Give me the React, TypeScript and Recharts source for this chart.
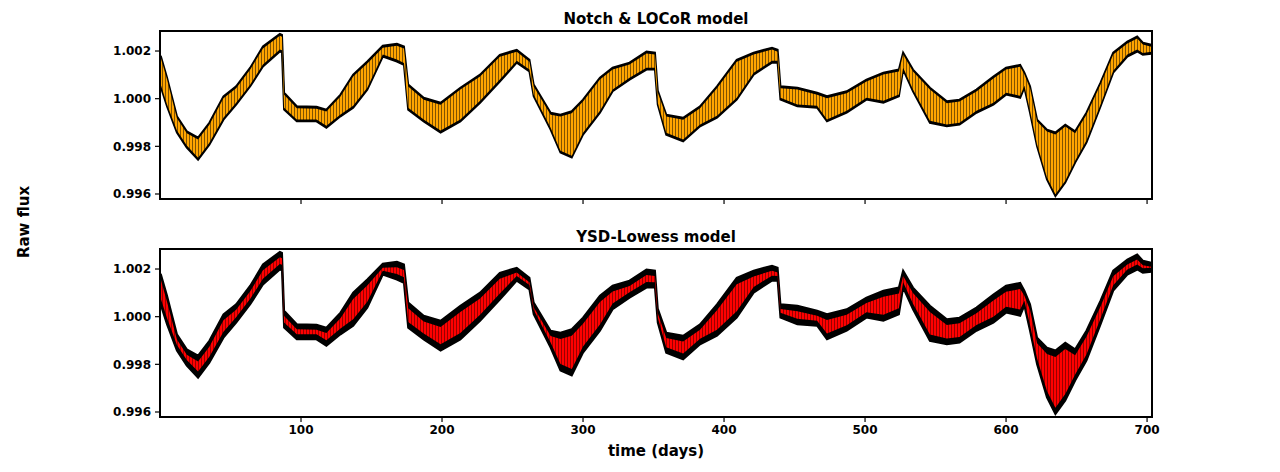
import React from "react";
import { ComposedChart, Area, XAxis, YAxis, ReferenceArea } from "recharts";

// sample times (days) along the light curve
const TIME = [
  0.5, 5, 12, 19, 27, 35, 45, 54, 64, 73, 85, 86.5, 88, 97, 111, 118, 128, 137, 147, 158,
  168, 173, 176, 187, 199, 213, 227, 241, 253, 262, 265, 277, 284, 292, 300, 312, 321, 333, 345, 351,
  353, 359, 371, 383, 395, 409, 421, 434, 438, 440, 452, 466, 473, 487, 501, 513, 524, 527, 534, 546,
  558, 567, 579, 591, 600, 610, 613, 617, 622, 629, 635, 642, 649, 657, 667, 676, 686, 693, 697, 703,
];

// raw flux envelope (upper / lower edge of the black points)
const FLUX_HI = [
  1.0018, 1.00088, 0.99926, 0.99863, 0.99837, 0.99899, 1.0001, 1.00052, 1.0013, 1.00219, 1.00272, 1.00268, 1.00025, 0.99968, 0.99966, 0.99954, 1.00017, 1.00101, 1.00156, 1.00222,
  1.0023, 1.00219, 1.00059, 1.00004, 0.99983, 1.00046, 1.00101, 1.00184, 1.00205, 1.00163, 1.00059, 0.99941, 0.99933, 0.99947, 0.99996, 1.00088, 1.0013, 1.00151, 1.00198, 1.00193,
  1.00034, 0.99933, 0.9992, 0.99968, 1.00052, 1.00163, 1.00193, 1.00214, 1.00205, 1.00052, 1.00046, 1.00025, 1.0001, 1.00031, 1.0008, 1.00109, 1.00122, 1.00193, 1.00122, 1.00046,
  0.99989, 0.99996, 1.00038, 1.00093, 1.0013, 1.00142, 1.00109, 1.00052, 0.99912, 0.9987, 0.99858, 0.99891, 0.99863, 0.99941, 1.00067, 1.00193, 1.0024, 1.00261, 1.00235, 1.00226,
];
const FLUX_LO = [
  1.0005, 0.99968, 0.99858, 0.99795, 0.99744, 0.99807, 0.99912, 0.99975, 1.00052, 1.00135, 1.00198, 1.00195, 0.99954, 0.99905, 0.99905, 0.99878, 0.99926, 0.99962, 1.00038, 1.00177,
  1.00156, 1.00142, 0.99954, 0.99905, 0.99858, 0.99905, 0.99983, 1.00072, 1.00151, 1.00114, 1.0001, 0.9987, 0.99774, 0.99753, 0.99849, 0.99941, 1.00031, 1.0008, 1.00122, 1.00122,
  0.99975, 0.99849, 0.99821, 0.99884, 0.9992, 0.99996, 1.00101, 1.00151, 1.00151, 0.99996, 0.99968, 0.99962, 0.99905, 0.99941, 0.99996, 0.99983, 1.0001, 1.00122, 1.00031, 0.99899,
  0.99884, 0.99891, 0.99941, 0.99975, 1.00017, 1.00004, 1.00046, 0.99941, 0.998, 0.99661, 0.99591, 0.99648, 0.99732, 0.99816, 0.99968, 1.00109, 1.00177, 1.00198, 1.00184, 1.00189,
];

// Notch & LOCoR model envelope
const NOTCH_HI = [
  1.00172, 1.0008, 0.99918, 0.99855, 0.99829, 0.99891, 1.00002, 1.00044, 1.00122, 1.00211, 1.00264, 1.0026, 1.00017, 0.9996, 0.99958, 0.99946, 1.00009, 1.00093, 1.00148, 1.00214,
  1.00222, 1.00211, 1.00051, 0.99996, 0.99975, 1.00038, 1.00093, 1.00176, 1.00197, 1.00155, 1.00051, 0.99933, 0.99925, 0.99939, 0.99988, 1.0008, 1.00122, 1.00143, 1.0019, 1.00185,
  1.00026, 0.99925, 0.99912, 0.9996, 1.00044, 1.00155, 1.00185, 1.00206, 1.00197, 1.00044, 1.00038, 1.00017, 1.00002, 1.00023, 1.00072, 1.00101, 1.00114, 1.00185, 1.00114, 1.00038,
  0.99981, 0.99988, 1.0003, 1.00085, 1.00122, 1.00134, 1.00101, 1.00044, 0.99904, 0.99862, 0.9985, 0.99883, 0.99855, 0.99933, 1.00059, 1.00185, 1.00232, 1.00253, 1.00227, 1.00218,
];
const NOTCH_LO = [
  1.0006, 0.99976, 0.99866, 0.99803, 0.99752, 0.99815, 0.9992, 0.99983, 1.0006, 1.00143, 1.00206, 1.00203, 0.99962, 0.99913, 0.99913, 0.99886, 0.99934, 0.9997, 1.00046, 1.00185,
  1.00164, 1.0015, 0.99962, 0.99913, 0.99866, 0.99913, 0.99991, 1.0008, 1.00159, 1.00122, 1.00018, 0.99878, 0.99782, 0.99761, 0.99857, 0.99949, 1.00039, 1.00088, 1.0013, 1.0013,
  0.99983, 0.99857, 0.99829, 0.99892, 0.99928, 1.00004, 1.00109, 1.00159, 1.00159, 1.00004, 0.99976, 0.9997, 0.99913, 0.99949, 1.00004, 0.99991, 1.00018, 1.0013, 1.00039, 0.99907,
  0.99892, 0.99899, 0.99949, 0.99983, 1.00025, 1.00012, 1.00054, 0.99949, 0.99808, 0.99669, 0.99599, 0.99656, 0.9974, 0.99824, 0.99976, 1.00117, 1.00185, 1.00206, 1.00192, 1.00197,
];

// YSD-Lowess model envelope (narrower than the notch model)
const YSD_HI = [
  1.00157, 1.00062, 0.99904, 0.9984, 0.99812, 0.99874, 0.99985, 1.00029, 1.00107, 1.00195, 1.00249, 1.00245, 1.00003, 0.99947, 0.99945, 0.99931, 0.99993, 1.00074, 1.00131, 1.00205,
  1.00207, 1.00196, 1.00035, 0.9998, 0.99957, 1.0002, 1.00076, 1.00159, 1.00185, 1.00144, 1.0004, 0.99919, 0.99906, 0.9992, 0.9997, 1.00062, 1.00106, 1.00129, 1.00175, 1.00171,
  1.00014, 0.9991, 0.99896, 0.99945, 1.00027, 1.00136, 1.00169, 1.00193, 1.00185, 1.00032, 1.00023, 1.00004, 0.99986, 1.00008, 1.00057, 1.00084, 1.00097, 1.00171, 1.00099, 1.0002,
  0.99965, 0.99972, 1.00014, 1.00068, 1.00105, 1.00116, 1.00088, 1.00028, 0.99888, 0.99843, 0.99831, 0.99864, 0.99838, 0.99916, 1.00043, 1.0017, 1.00219, 1.0024, 1.00216, 1.0021,
];
const YSD_LO = [
  1.00076, 0.99993, 0.99881, 0.99818, 0.9977, 0.99832, 0.99937, 0.99998, 1.00075, 1.00159, 1.00221, 1.00218, 0.99976, 0.99926, 0.99926, 0.99901, 0.9995, 0.99989, 1.00063, 1.00193,
  1.00179, 1.00165, 0.99978, 0.99929, 0.99884, 0.99931, 1.00008, 1.00097, 1.00171, 1.00133, 1.00029, 0.99892, 0.99801, 0.9978, 0.99875, 0.99967, 1.00055, 1.00102, 1.00145, 1.00144,
  0.99995, 0.99872, 0.99845, 0.99907, 0.99945, 1.00023, 1.00125, 1.00172, 1.00171, 1.00016, 0.99991, 0.99983, 0.99929, 0.99964, 1.00019, 1.00008, 1.00035, 1.00144, 1.00054, 0.99925,
  0.99908, 0.99915, 0.99965, 1.0, 1.00042, 1.0003, 1.00067, 0.99965, 0.99824, 0.99688, 0.99618, 0.99675, 0.99757, 0.99841, 0.99992, 1.00132, 1.00198, 1.00219, 1.00203, 1.00205,
];

const Y_TICKS = [0.996, 0.998, 1.0, 1.002];
const X_TICKS = [100, 200, 300, 400, 500, 600, 700];
const X_DOMAIN = [0, 703.5];
const Y_DOMAIN = [0.99579, 1.00284];

const rows = TIME.map((t, i) => ({
  t,
  flux: [FLUX_LO[i], FLUX_HI[i]],
  notch: [NOTCH_LO[i], NOTCH_HI[i]],
  ysd: [YSD_LO[i], YSD_HI[i]],
}));

const FONT = "'DejaVu Sans', sans-serif";
const tickStyle = { fill: "#000", fontSize: 12, fontWeight: 700, fontFamily: FONT };
const axisLine = { stroke: "#000", strokeWidth: 2 };
const tickLine = { stroke: "#000", strokeWidth: 1.2 };

function Panel({ modelKey, pattern, showX }: { modelKey: string; pattern: string; showX: boolean }) {
  return (
    <ComposedChart
      width={1280}
      height={showX ? 254 : 212}
      data={rows}
      margin={{ top: 31, right: 128, bottom: 0, left: 100 }}
    >
      <XAxis
        dataKey="t"
        type="number"
        domain={X_DOMAIN}
        ticks={X_TICKS}
        allowDataOverflow
        height={showX ? 55 : 13}
        axisLine={axisLine}
        tickLine={tickLine}
        tickSize={5}
        tickMargin={3}
        tick={tickStyle}
        tickFormatter={(v: number) => (showX ? String(v) : "")}
      />
      <YAxis
        type="number"
        domain={Y_DOMAIN}
        ticks={Y_TICKS}
        allowDataOverflow
        width={60}
        axisLine={axisLine}
        tickLine={tickLine}
        tickSize={5}
        tickMargin={4}
        tick={tickStyle}
        tickFormatter={(v: number) => v.toFixed(3)}
      />
      <Area dataKey="flux" type="linear" fill="#000" fillOpacity={1} stroke="#000" strokeWidth={2} isAnimationActive={false} />
      <Area dataKey={modelKey} type="linear" fill={`url(#${pattern})`} fillOpacity={1} stroke="none" isAnimationActive={false} />
      {/* plot frame */}
      <ReferenceArea
        x1={X_DOMAIN[0]}
        x2={X_DOMAIN[1]}
        y1={Y_DOMAIN[0]}
        y2={Y_DOMAIN[1]}
        fill="none"
        fillOpacity={0}
        stroke="#000"
        strokeWidth={2}
        ifOverflow="visible"
      />
    </ComposedChart>
  );
}

export default function App() {
  return (
    <div style={{ position: "absolute", left: 0, top: 0, width: 1280, height: 472, background: "#fff", fontFamily: FONT }}>
      <svg width={0} height={0} style={{ position: "absolute" }}>
        <defs>
          <pattern id="orangeHatch" width={3} height={10} patternUnits="userSpaceOnUse">
            <rect width={3} height={10} fill="#FFA500" />
            <rect x={0} width={0.9} height={10} fill="#000" fillOpacity={0.55} />
          </pattern>
          <pattern id="redHatch" width={3} height={10} patternUnits="userSpaceOnUse">
            <rect width={3} height={10} fill="#FF0000" />
            <rect x={0} width={0.9} height={10} fill="#000" fillOpacity={0.45} />
          </pattern>
        </defs>
      </svg>
      <div style={{ position: "absolute", left: 160, width: 992, top: 10, textAlign: "center", fontSize: 15, fontWeight: 700 }}>
        Notch &amp; LOCoR model
      </div>
      <div style={{ position: "absolute", left: 160, width: 992, top: 228, textAlign: "center", fontSize: 15, fontWeight: 700 }}>
        YSD-Lowess model
      </div>
      <div style={{ position: "absolute", left: 0, top: 0 }}>
        <Panel modelKey="notch" pattern="orangeHatch" showX={false} />
      </div>
      <div style={{ position: "absolute", left: 0, top: 218 }}>
        <Panel modelKey="ysd" pattern="redHatch" showX={true} />
      </div>
      <div
        style={{
          position: "absolute",
          left: 24,
          top: 222,
          transform: "translate(-50%, -50%) rotate(-90deg)",
          whiteSpace: "nowrap",
          fontSize: 15,
          fontWeight: 700,
        }}
      >
        Raw flux
      </div>
      <div style={{ position: "absolute", left: 160, width: 992, top: 442, textAlign: "center", fontSize: 15, fontWeight: 700 }}>
        time (days)
      </div>
    </div>
  );
}
